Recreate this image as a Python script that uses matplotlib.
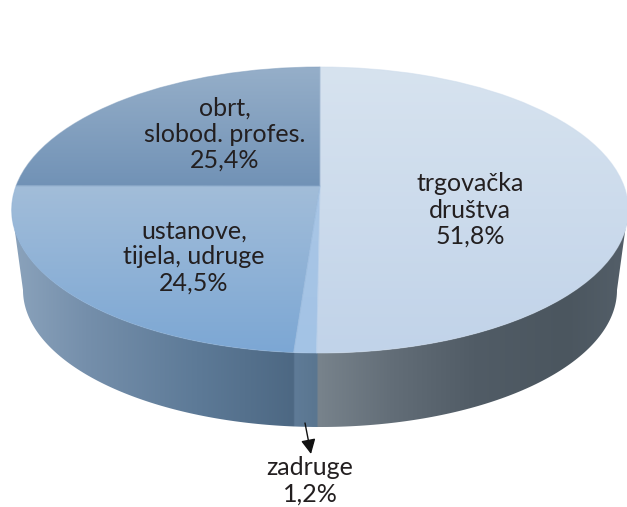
import numpy as np
import matplotlib
matplotlib.use('Agg')
import matplotlib.pyplot as plt
from matplotlib.colors import LinearSegmentedColormap, to_rgb
from matplotlib.patches import Polygon
from matplotlib.transforms import Transform

plt.rcParams['font.family'] = ['Lato', 'DejaVu Sans']

# printed labels
labels = ['trgovačka\ndruštva', 'zadruge', 'ustanove,\ntijela, udruge', 'obrt,\nslobod. profes.']
values = [51.8, 1.2, 24.5, 25.4]
# the printed values add up to 102.9, so the slices are the shares as drawn
drawn_shares = [50.2, 1.0, 23.9, 25.0]

label_pos = [(470, 210), (310, 481), (194, 257), (225, 134)]

# colours: top and bottom of each slice
top_colors = [('#d7e3ef', '#c1d3e9'), ('#a9c6e5', '#a3c3e6'),
              ('#a2bdd9', '#7ca7d4'), ('#96afc9', '#7192b6')]
# side of the drum, left to right (position, colour)
side_stops = [(0.00, '#8ba3bc'), (0.12, '#758fab'), (0.30, '#5d7a97'),
              (0.457, '#4d6883'), (0.459, '#5f7b97'), (0.495, '#5a7690'),
              (0.497, '#78838c'), (0.62, '#626d77'), (0.75, '#515c66'),
              (0.90, '#4b565f'), (1.00, '#545f69')]

TXT = '#231f20'


class PieTilt(Transform):
	# pie unit circle -> picture pixels, seen in perspective
	input_dims = 2
	output_dims = 2
	is_separable = False

	def transform_non_affine(self, xy):
		xy = np.asarray(xy, dtype=float)
		c = 0.1678
		w = 1 + c * xy[:, 1]
		return np.column_stack((320 + 304 * xy[:, 0] / w, (186 - 107.8 * xy[:, 1]) / w))


fig = plt.figure(figsize=(6.27, 5.07), dpi=100)
ax = fig.add_axes([0, 0, 1, 1])

wedges, _ = ax.pie(drawn_shares, startangle=90, counterclock=False, radius=1)
ax.set_aspect('auto')
ax.set_xlim(0, 627)
ax.set_ylim(507, 0)
ax.axis('off')

# side of the drum
t = np.linspace(0, np.pi, 200)
low_x = 320 + 297 * np.cos(t)
low_y = 290 + 137 * np.sin(t)
up_x = 320 + 308 * np.cos(t[::-1])
up_y = 210 + 143 * np.sin(t[::-1])
side = Polygon(np.column_stack((np.r_[low_x, up_x], np.r_[low_y, up_y])), closed=True,
               fc='none', ec='none', transform=ax.transData)
ax.add_patch(side)
side_cmap = LinearSegmentedColormap.from_list('side', side_stops, N=1024)
grad_x = np.linspace(0, 1, 1024)[None, :]
im = ax.imshow(grad_x, cmap=side_cmap, extent=(12, 628, 430, 200), aspect='auto', zorder=1)
im.set_clip_path(side)

# top face, one vertical gradient per slice
tilt = PieTilt()
grad_y = np.linspace(0, 1, 256)[:, None]
for w, (c0, c1) in zip(wedges, top_colors):
	w.set_transform(tilt + ax.transData)
	# thin stroke softens the hard clip edge of the gradient
	mid = (np.array(to_rgb(c0)) + np.array(to_rgb(c1))) / 2
	w.set_facecolor('none')
	w.set_edgecolor(tuple(mid) + (0.5,))
	w.set_linewidth(0.7)
	w.set_zorder(3)
	cmap = LinearSegmentedColormap.from_list('top', [c0, c1])
	im = ax.imshow(grad_y, cmap=cmap, extent=(0, 627, 0, 1), aspect='auto', zorder=2)
	# each slice gets the gradient over its own height
	bb = w.get_path().vertices
	bb = tilt.transform(w.get_patch_transform().transform(bb))
	im.set_extent((0, 627, bb[:, 1].max(), bb[:, 1].min()))
	im.set_clip_path(w)

ax.set_xlim(0, 627)
ax.set_ylim(507, 0)

for lab, val, (x, y) in zip(labels, values, label_pos):
	txt = lab + '\n' + ('%.1f%%' % val).replace('.', ',')
	ax.text(x, y, txt, ha='center', va='center', ma='center', fontsize=18,
	        color=TXT, linespacing=1.18, zorder=5)

ax.annotate('', xy=(311, 454), xytext=(305, 423), zorder=5,
            arrowprops=dict(arrowstyle='-|>', color='#111111', lw=1.0,
                            mutation_scale=22, shrinkA=0, shrinkB=0))

fig.savefig('out.png', dpi=100)
